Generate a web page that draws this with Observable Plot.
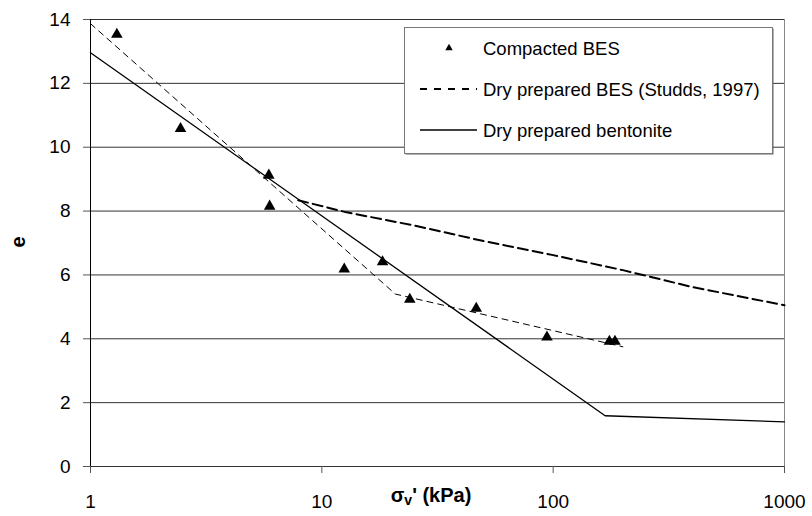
<!DOCTYPE html>
<html><head><meta charset="utf-8">
<script src="https://cdn.jsdelivr.net/npm/d3@7"></script>
<script src="https://cdn.jsdelivr.net/npm/@observablehq/plot@0.6"></script>
<style>
body{margin:0;background:#fff;}
#chart{position:relative;width:812px;height:516px;}
</style>
</head><body><div id="chart"></div>
<script>
// ---- data ----
const compactedStress = [1.3, 2.45, 5.9, 5.95, 12.5, 18.3, 24, 46.5, 94, 175, 185];
const compactedE      = [13.53, 10.58, 9.12, 8.15, 6.18, 6.41, 5.23, 4.95, 4.05, 3.92, 3.92];
const fitStress = [1, 20.8, 200];
const fitE      = [13.87, 5.40, 3.75];
const studdsStress = [7.9, 12.8, 25, 50, 100, 200, 400, 1000];
const studdsE      = [8.34, 7.96, 7.55, 7.06, 6.62, 6.15, 5.62, 5.05];
const bentoniteStress = [1, 167.7, 1000];
const bentoniteE      = [12.96, 1.59, 1.40];
const xTicks = [1, 10, 100, 1000];
const yTicks = [0, 2, 4, 6, 8, 10, 12, 14];
const legendLabels = ["Compacted BES", "Dry prepared BES (Studds, 1997)", "Dry prepared bentonite"];

const zip = (xs, ys) => xs.map((x, i) => ({x, y: ys[i]}));
const compacted = zip(compactedStress, compactedE);
const fit = zip(fitStress, fitE);
const studds = zip(studdsStress, studdsE);
const bentonite = zip(bentoniteStress, bentoniteE);

const FONT = "'Liberation Sans', Arial, sans-serif";

const plot = Plot.plot({
  width: 812,
  height: 516,
  marginLeft: 90,
  marginRight: 28,
  marginTop: 19,
  marginBottom: 50,
  style: {fontFamily: FONT, fontSize: "19px", background: "#fff", color: "#000"},
  x: {type: "log", domain: [1, 1000]},
  y: {domain: [0, 14]},
  marks: [
    Plot.ruleY(yTicks, {stroke: "#333", strokeWidth: 1}),
    Plot.ruleX([1000], {stroke: "#888", strokeWidth: 1}),
    Plot.ruleX([1], {stroke: "#000", strokeWidth: 1}),
    Plot.axisX({ticks: xTicks, tickFormat: d => String(d), tickSize: 7, tickPadding: 21, label: null, stroke: "#555", fill: "#000", fontSize: 19}),
    Plot.axisY({ticks: yTicks, tickFormat: d => String(d), tickSize: 7, tickPadding: 13, label: null, stroke: "#555", fill: "#000", fontSize: 19}),
    Plot.line(fit, {x: "x", y: "y", stroke: "#000", strokeWidth: 1, strokeDasharray: "6,5"}),
    Plot.line(studds, {x: "x", y: "y", stroke: "#000", strokeWidth: 2, strokeDasharray: "10,5"}),
    Plot.line(bentonite, {x: "x", y: "y", stroke: "#000", strokeWidth: 1.3}),
    Plot.dot(compacted, {x: "x", y: "y", symbol: "triangle", r: 4.3, fill: "#000", stroke: "none"})
  ]
});

document.getElementById("chart").appendChild(plot);
const svg = d3.select(plot);

// axis titles
const xl = svg.append("text")
  .attr("x", 431).attr("y", 502)
  .attr("text-anchor", "middle")
  .attr("font-family", FONT).attr("font-size", 20).attr("font-weight", "bold");
xl.append("tspan").text("σ");
xl.append("tspan").attr("font-size", 14).attr("dy", 3).text("v");
xl.append("tspan").attr("dy", -3).text("' (kPa)");

svg.append("text")
  .attr("transform", "translate(25,242) rotate(-90)")
  .attr("text-anchor", "middle")
  .attr("font-family", FONT).attr("font-size", 20).attr("font-weight", "bold")
  .text("e");

// legend
const lg = svg.append("g");
lg.append("rect").attr("x", 405.5).attr("y", 28.5).attr("width", 368).attr("height", 126).attr("fill", "#666");
lg.append("rect").attr("x", 404.5).attr("y", 27.5).attr("width", 368).attr("height", 126).attr("fill", "#fff").attr("stroke", "#777");
const rowY = [48, 89, 130];
lg.append("path").attr("d", d3.symbol(d3.symbolTriangle, 24)()).attr("transform", `translate(449,${rowY[0]})`).attr("fill", "#000");
lg.append("line").attr("x1", 420).attr("x2", 477).attr("y1", rowY[1]).attr("y2", rowY[1]).attr("stroke", "#000").attr("stroke-width", 2).attr("stroke-dasharray", "7,7");
lg.append("line").attr("x1", 420).attr("x2", 477).attr("y1", rowY[2]).attr("y2", rowY[2]).attr("stroke", "#000").attr("stroke-width", 1.3);
legendLabels.forEach((t, i) => {
  lg.append("text").attr("x", 483).attr("y", rowY[i] + 7)
    .attr("text-anchor", "start")
    .attr("font-family", FONT).attr("font-size", 18.5).attr("fill", "#000").text(t);
});
</script>
</body></html>
